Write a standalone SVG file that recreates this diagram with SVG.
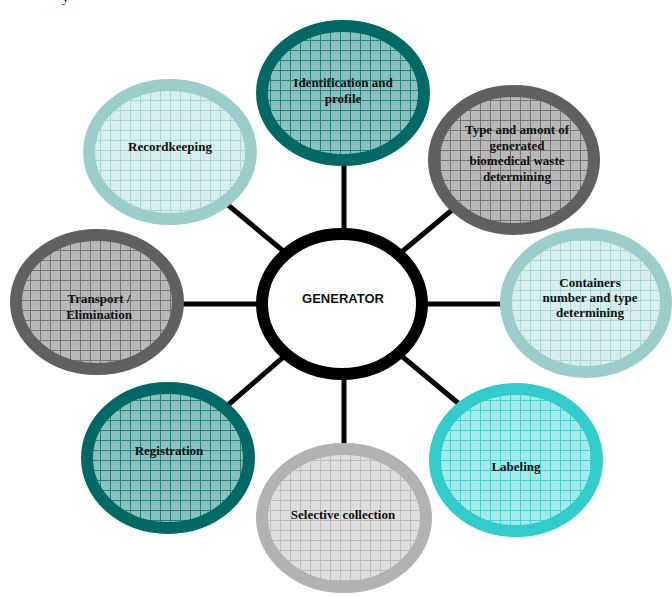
<svg xmlns="http://www.w3.org/2000/svg" width="672" height="597" viewBox="0 0 672 597">
<defs>
<pattern id="pTeal" width="10" height="10" patternUnits="userSpaceOnUse"><rect width="10" height="10" fill="#8bc0bc"/><path d="M0 0.5H10M0.5 0V10" stroke="#2a7d7a" stroke-width="1"/></pattern>
<pattern id="pGray" width="10" height="10" patternUnits="userSpaceOnUse"><rect width="10" height="10" fill="#b8b8b8"/><path d="M0 0.5H10M0.5 0V10" stroke="#777" stroke-width="1"/></pattern>
<pattern id="pPale" width="10" height="10" patternUnits="userSpaceOnUse"><rect width="10" height="10" fill="#d8edec"/><path d="M0 0.5H10M0.5 0V10" stroke="#acd6d6" stroke-width="1"/></pattern>
<pattern id="pCyan" width="10" height="10" patternUnits="userSpaceOnUse"><rect width="10" height="10" fill="#a8e8e8"/><path d="M0 0.5H10M0.5 0V10" stroke="#4ccfcf" stroke-width="1"/></pattern>
<pattern id="pLight" width="10" height="10" patternUnits="userSpaceOnUse"><rect width="10" height="10" fill="#dedede"/><path d="M0 0.5H10M0.5 0V10" stroke="#bdbdbd" stroke-width="1"/></pattern>
</defs>
<style>
.ring{stroke-width:12}
.teal{fill:url(#pTeal);stroke:#006966}
.gray{fill:url(#pGray);stroke:#606060}
.pale{fill:url(#pPale);stroke:#9ccdcd}
.cyan{fill:url(#pCyan);stroke:#33cccc}
.light{fill:url(#pLight);stroke:#b2b2b2}
.lbl{font-family:"Liberation Serif",serif;font-weight:bold;font-size:13px;fill:#111;text-anchor:middle}
.gen{font-family:"Liberation Sans",Arial,sans-serif;font-weight:bold;font-size:13px;fill:#111;text-anchor:middle}
.conn line{stroke:#000;stroke-width:5}
</style>
<text x="62" y="2" font-family="Liberation Serif,serif" font-size="14px" fill="#222">y</text>
<g id="connectors" class="conn">
<line x1="344" y1="160" x2="344" y2="235"/>
<line x1="344" y1="375" x2="344" y2="450"/>
<line x1="178" y1="304" x2="262" y2="304"/>
<line x1="422" y1="304" x2="505" y2="304"/>
<line x1="228" y1="205" x2="288" y2="255"/>
<line x1="398" y1="255" x2="458" y2="205"/>
<line x1="398" y1="353" x2="458" y2="403"/>
<line x1="288" y1="353" x2="228" y2="405"/>
</g>
<g id="recordkeeping"><ellipse class="ring pale" cx="170" cy="152" rx="81" ry="67"/><text class="lbl" x="170" y="151">Recordkeeping</text></g>
<g id="identification"><ellipse class="ring teal" cx="343" cy="93" rx="81" ry="67"/><text class="lbl" x="343" y="87">Identification and</text><text class="lbl" x="343" y="103">profile</text></g>
<g id="type-amount"><ellipse class="ring gray" cx="514" cy="160" rx="80" ry="69"/><text class="lbl" x="517" y="134">Type and amont of</text><text class="lbl" x="517" y="149.5">generated</text><text class="lbl" x="517" y="165">biomedical waste</text><text class="lbl" x="517" y="180.5">determining</text></g>
<g id="containers"><ellipse class="ring pale" cx="586" cy="303" rx="80" ry="69"/><text class="lbl" x="590" y="287">Containers</text><text class="lbl" x="590" y="302">number and type</text><text class="lbl" x="590" y="317">determining</text></g>
<g id="transport"><ellipse class="ring gray" cx="97" cy="302" rx="81" ry="67"/><text class="lbl" x="99" y="303">Transport /</text><text class="lbl" x="99" y="319">Elimination</text></g>
<g id="registration"><ellipse class="ring teal" cx="168" cy="458" rx="81" ry="70"/><text class="lbl" x="169" y="455">Registration</text></g>
<g id="labeling"><ellipse class="ring cyan" cx="516" cy="460" rx="81" ry="71"/><text class="lbl" x="516" y="471">Labeling</text></g>
<g id="selective"><ellipse class="ring light" cx="344" cy="518" rx="82" ry="69"/><text class="lbl" x="343" y="519">Selective collection</text></g>
<g id="generator"><ellipse cx="342" cy="304" rx="80" ry="70" fill="#fff" stroke="#000" stroke-width="12"/><text class="gen" x="343" y="303">GENERATOR</text></g>
</svg>
